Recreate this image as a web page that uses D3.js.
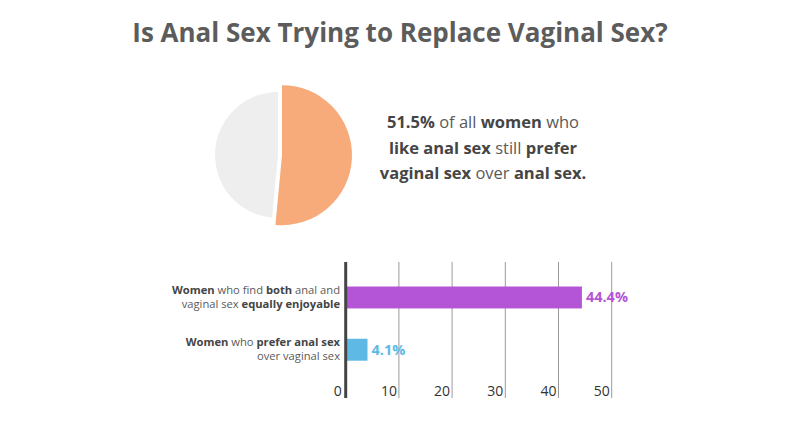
<!DOCTYPE html>
<html>
<head>
  <meta charset="utf-8">
  <script src="https://cdn.jsdelivr.net/npm/d3@7"></script>
  <style>
    body { margin: 0; background: #fff; }
    text { font-family: "Open Sans", Lato, sans-serif; }
  </style>
</head>
<body>
<script>
  "use strict";

  // data
  var pieNames = ["prefer vaginal sex", "rest"];
  var pieValues = [51.5, 48.5];

  var barValues = [44.4, 4.1];
  var barLabels = ["44.4%", "4.1%"];
  var barLines = [
    [[["Women", 1], [" who find ", 0], ["both", 1], [" anal and", 0]],
     [["vaginal sex ", 0], ["equally enjoyable", 1]]],
    [[["Women", 1], [" who ", 0], ["prefer anal sex", 1]],
     [["over vaginal sex", 0]]]
  ];
  var ticks = [0, 10, 20, 30, 40, 50];

  var blurb = [
    [["51.5%", 1], [" of all ", 0], ["women", 1], [" who", 0]],
    [["like anal sex", 1], [" still ", 0], ["prefer", 1]],
    [["vaginal sex", 1], [" over ", 0], ["anal sex.", 1]]
  ];

  var width = 800, height = 440;
  var svg = d3.select("body").append("svg")
      .attr("width", width)
      .attr("height", height);

  // title
  svg.append("text")
      .attr("x", 400).attr("y", 42)
      .attr("text-anchor", "middle")
      .attr("font-size", 26)
      .attr("font-weight", 700)
      .attr("fill", "#5c5c5c")
      .text("Is Anal Sex Trying to Replace Vaginal Sex?");

  // pie
  var pieColors = ["#f7ab7a", "#eeeeee"];
  var pieRadius = [70, 63];
  var pie = d3.pie().sort(null)(pieValues);
  var pg = svg.append("g").attr("transform", "translate(278,155)");
  pg.selectAll("path")
    .data(pie)
    .enter().append("path")
      .attr("d", function(d, i) {
        return d3.arc().innerRadius(0).outerRadius(pieRadius[i])(d);
      })
      .attr("transform", function(d, i) {
        if (i !== 0) return null;
        var a = (d.startAngle + d.endAngle) / 2;
        return "translate(" + (4 * Math.sin(a)) + "," + (-4 * Math.cos(a)) + ")";
      })
      .attr("fill", function(d, i) { return pieColors[i]; });

  function richLine(sel, parts) {
    sel.selectAll("tspan")
      .data(parts)
      .enter().append("tspan")
        .attr("font-weight", function(p) { return p[1] ? 700 : 400; })
        .attr("fill", function(p) { return p[1] ? "#454545" : "#5a5a5a"; })
        .text(function(p) { return p[0]; });
  }

  blurb.forEach(function(line, i) {
    var t = svg.append("text")
        .attr("x", 483).attr("y", 128 + i * 25.5)
        .attr("text-anchor", "middle")
        .attr("font-size", 16.5);
    richLine(t, line);
  });

  // bars
  var x = d3.scaleLinear().domain([0, 50]).range([345.7, 611.7]);
  var y = d3.scaleBand().domain([0, 1]).range([286.5, 360.7])
      .paddingInner(0.58).paddingOuter(0);
  var barColors = ["#b455d7", "#5eb9e5"];
  var gridTop = 262, gridBottom = 398;

  svg.append("g").selectAll("line")
    .data(ticks.slice(1))
    .enter().append("line")
      .attr("x1", function(d) { return x(d); })
      .attr("x2", function(d) { return x(d); })
      .attr("y1", gridTop).attr("y2", gridBottom)
      .attr("stroke", "#9a9a9a")
      .attr("stroke-width", 1);

  svg.append("g").selectAll("text")
    .data(ticks)
    .enter().append("text")
      .attr("x", function(d) { return x(d) - (d === 0 ? 4 : 2); })
      .attr("y", 396)
      .attr("text-anchor", "end")
      .attr("font-size", 14)
      .attr("fill", "#333")
      .text(function(d) { return d; });

  svg.append("g").selectAll("rect")
    .data(barValues)
    .enter().append("rect")
      .attr("x", x(0))
      .attr("y", function(d, i) { return y(i); })
      .attr("width", function(d) { return x(d) - x(0); })
      .attr("height", y.bandwidth())
      .attr("fill", function(d, i) { return barColors[i]; });

  svg.append("line")
      .attr("x1", x(0)).attr("x2", x(0))
      .attr("y1", gridTop).attr("y2", gridBottom)
      .attr("stroke", "#444")
      .attr("stroke-width", 3);

  svg.append("g").selectAll("text")
    .data(barValues)
    .enter().append("text")
      .attr("x", function(d) { return x(d) + 4; })
      .attr("y", function(d, i) { return y(i) + y.bandwidth() / 2 + 5; })
      .attr("font-size", 14.5)
      .attr("font-weight", 700)
      .attr("fill", function(d, i) { return barColors[i]; })
      .text(function(d, i) { return barLabels[i]; });

  barLines.forEach(function(lines, i) {
    var cy = y(i) + y.bandwidth() / 2;
    lines.forEach(function(line, j) {
      var t = svg.append("text")
          .attr("x", 340)
          .attr("y", cy - 3.5 + j * 14)
          .attr("text-anchor", "end")
          .attr("font-size", 11.2);
      richLine(t, line);
    });
  });
</script>
</body>
</html>
